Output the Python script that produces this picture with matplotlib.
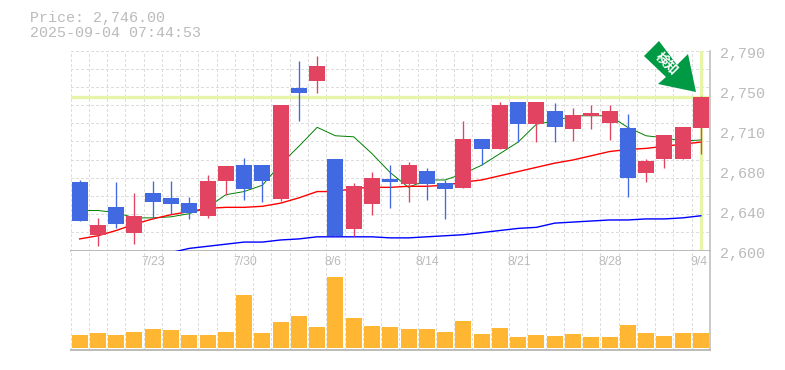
import matplotlib
matplotlib.use("Agg")
import matplotlib.pyplot as plt
from matplotlib.patches import Polygon
import numpy as np

W, H = 785, 370

# price data
opens = [2665, 2615, 2641, 2617, 2655, 2650, 2645, 2633, 2666, 2681, 2681, 2649, 2754, 2761, 2687, 2620, 2644, 2668,
         2663, 2676, 2664, 2659, 2706, 2696, 2741, 2720, 2733, 2715, 2728, 2721, 2716, 2674, 2687, 2687, 2716]
closes = [2628, 2624, 2625, 2633, 2646, 2644, 2636, 2666, 2680, 2658, 2666, 2738, 2750, 2775, 2614, 2661, 2669, 2665,
          2681, 2663, 2658, 2706, 2696, 2738, 2720, 2741, 2717, 2729, 2731, 2733, 2669, 2685, 2710, 2717, 2746]
highs = [2667, 2631, 2665, 2655, 2666, 2666, 2651, 2672, 2680, 2688, 2681, 2738, 2780, 2785, 2687, 2664, 2675, 2681,
         2684, 2678, 2667, 2723, 2706, 2741, 2741, 2741, 2740, 2735, 2738, 2738, 2730, 2687, 2710, 2717, 2747]
lows = [2628, 2604, 2621, 2606, 2630, 2635, 2630, 2631, 2653, 2648, 2646, 2647, 2723, 2750, 2614, 2614, 2634, 2640,
        2646, 2648, 2630, 2659, 2681, 2696, 2703, 2703, 2703, 2704, 2715, 2705, 2651, 2665, 2678, 2687, 2692]
ma_short = [2638, 2638, 2636, 2631, 2631, 2632, 2635, 2641, 2653, 2656, 2662, 2682, 2699, 2717, 2709, 2708, 2692, 2674,
            2660, 2667, 2667, 2673, 2681, 2692, 2703, 2720, 2723, 2728, 2728, 2728, 2717, 2709, 2707, 2704, 2705]
ma_mid = [2611, 2614, 2619, 2625, 2630, 2634, 2637, 2640, 2641, 2641, 2642, 2645, 2650, 2656, 2656, 2659, 2660, 2660,
          2661, 2661, 2662, 2665, 2667, 2671, 2675, 2679, 2683, 2686, 2690, 2694, 2696, 2697, 2699, 2701, 2703]
ma_long = [2598, 2602, 2604, 2606, 2608, 2608, 2610, 2611, 2613, 2613, 2613, 2613, 2612, 2612, 2613, 2614, 2615, 2617,
           2619, 2621, 2622, 2626, 2627, 2628, 2629, 2629, 2630, 2630, 2631, 2633]
volumes = [13, 15, 13, 16, 19, 18, 13, 13, 16, 53, 15, 26, 32, 21, 71, 30, 22, 21,
           19, 19, 16, 27, 14, 20, 11, 13, 12, 14, 11, 11, 23, 15, 12, 15, 15]
y_ticks = [2600, 2638, 2676, 2714, 2752, 2790]
y_labels = ["2,600", "2,640", "2,680", "2,710", "2,750", "2,790"]
x_ticks = [4, 9, 14, 19, 24, 29, 34]
x_labels = ["7/23", "7/30", "8/6", "8/14", "8/21", "8/28", "9/4"]
last_price = 2746

BLUE = "#4169e1"
RED = "#e14361"
ORANGE = "#ffb733"
GRAY = "#bbbbbb"
GRID = "#dddddd"
HILITE = "#e6f5a8"
ARROW = "#009944"


def fx(x):
    return x / W


def fy(y):
    return 1 - y / H


fig = plt.figure(figsize=(W / 100, H / 100), dpi=100, facecolor="white")
ax = fig.add_axes([fx(70.5), fy(250.5), 639.5 / W, 200 / H])
ax2 = fig.add_axes([fx(70.5), fy(349.5), 639.5 / W, 99 / H])

n = len(opens)
xs = np.arange(n) + 0.5
grid_kw = dict(color=GRID, lw=0.72, dashes=(2.9, 2.9), zorder=1, antialiased=False)

for a in (ax, ax2):
    a.set_xlim(0, n)
    for i in range(n + 1):
        a.axvline(i, **grid_kw)
    a.set_xticks([])
    a.set_yticks([])
    a.spines["left"].set_visible(False)
    a.spines["top"].set_visible(False)
    a.spines["right"].set_color(GRAY)
    a.spines["bottom"].set_color(GRAY)
    a.spines["right"].set_linewidth(1.1)
    a.spines["bottom"].set_linewidth(1.4)

ax.set_ylim(2600, 2790)
for i in range(12):
    ax.axhline(2600 + i * 190 / 11, **grid_kw)

# current price cross
ax.axhline(last_price, color=HILITE, lw=2.4, zorder=2)
ax.axvline(xs[-1], color=HILITE, lw=2.4, zorder=2)

# moving averages sit behind the candles
ax.plot(xs, ma_short, color="#008000", lw=0.7, zorder=3)
ax.plot(xs, ma_mid, color="#ff0000", lw=1.0, zorder=3)
ln, = ax.plot(xs[5:], ma_long, color="#0000ff", lw=1.0, zorder=3)
ln.set_clip_on(False)

for i in range(n):
    c = RED if closes[i] >= opens[i] else BLUE
    ax.vlines(xs[i], lows[i], highs[i], color=c, lw=0.95, zorder=4)
    ax.bar(xs[i], abs(closes[i] - opens[i]), bottom=min(opens[i], closes[i]), width=0.875, color=c, lw=0, zorder=5)

ax2.set_ylim(-1.5, 97.5)
ax2.bar(xs, volumes, width=0.875, color=ORANGE, lw=0, zorder=3)

for v, lab in zip(y_ticks, y_labels):
    ax.annotate(lab, (1, v), xycoords=("axes fraction", "data"), xytext=(7, -2.2), textcoords="offset points",
                family="Liberation Mono", fontsize=10.8, color=GRAY, va="center", ha="left", annotation_clip=False)
for i, lab in zip(x_ticks, x_labels):
    ax2.annotate(lab, (xs[i], 1), xycoords=("data", "axes fraction"), xytext=(-7.9, -8.6), textcoords="offset points",
                 family="Liberation Sans", fontsize=8.8, color=GRAY, va="center", ha="left")

fig.text(fx(30), fy(18), "Price: 2,746.00", family="Liberation Mono", fontsize=10.8, color=GRAY, va="center", ha="left")
fig.text(fx(30), fy(33), "2025-09-04 07:44:53", family="Liberation Mono", fontsize=10.8, color=GRAY, va="center", ha="left")

# green signal arrow
arrow_px = [(659, 41), (644, 56), (666, 77), (658, 84), (696, 92), (688, 54), (677, 65)]
fig.add_artist(Polygon([(fx(x), fy(y)) for x, y in arrow_px], closed=True, transform=fig.transFigure,
                       facecolor=ARROW, edgecolor="none", zorder=10))
fig.text(fx(667), fy(63), "検知", family=["Noto Sans CJK JP", "DejaVu Sans"], fontweight="bold", fontsize=9.4,
         color="white", rotation=-45, rotation_mode="anchor", va="center", ha="center", zorder=11)

fig.savefig("out.png", dpi=100, facecolor="white")
